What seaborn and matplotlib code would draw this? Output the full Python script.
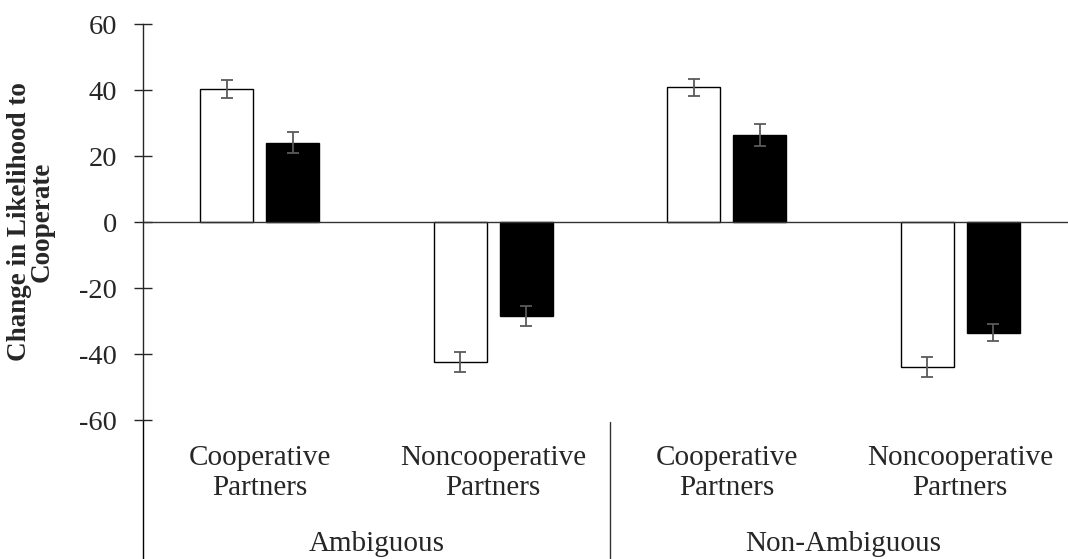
import numpy as np
import pandas as pd
import matplotlib
matplotlib.use('Agg')
import matplotlib.pyplot as plt
import matplotlib.transforms as mtransforms
import seaborn as sns

# Bar values
groups = ['Ambiguous', 'Ambiguous', 'Non-Ambiguous', 'Non-Ambiguous']
partners = ['Cooperative\nPartners', 'Noncooperative\nPartners',
            'Cooperative\nPartners', 'Noncooperative\nPartners']
series_names = ['Open', 'Filled']
open_means = [40.3, -42.5, 40.8, -43.9]
open_errs = [2.8, 3.0, 2.5, 3.0]
filled_means = [24.0, -28.5, 26.3, -33.5]
filled_errs = [3.2, 2.9, 3.4, 2.7]
yticks = [-60, -40, -20, 0, 20, 40, 60]

sns.set_style('ticks')
plt.rcParams['font.family'] = ['Liberation Serif', 'DejaVu Serif']
plt.rcParams['axes.unicode_minus'] = False

keys = [f'{g}|{p}' for g, p in zip(groups, partners)]
df = pd.DataFrame({
    'key': keys * 2,
    'series': [series_names[0]] * 4 + [series_names[1]] * 4,
    'value': open_means + filled_means,
    'err': open_errs + filled_errs,
})

fig = plt.figure(figsize=(10.68, 5.59), dpi=100)
ax = fig.add_axes([143 / 1068, 139 / 559, 934 / 1068, 396 / 559])

sns.barplot(data=df, x='key', y='value', hue='series', order=keys,
            hue_order=series_names,
            palette={series_names[0]: 'white', series_names[1]: 'black'},
            edgecolor='black', linewidth=1.0, width=0.565, gap=0.2,
            errorbar=None, legend=False, ax=ax)

# error bars placed on the bars seaborn drew
for cont, name in zip(ax.containers, series_names):
    errs = df.loc[df['series'] == name, 'err'].to_numpy()
    xs = [b.get_x() + b.get_width() / 2 for b in cont]
    ys = [b.get_y() + b.get_height() for b in cont]
    ax.errorbar(xs, ys, yerr=errs, fmt='none', ecolor='#5a5a5a',
                elinewidth=1.3, capsize=4, capthick=1.3, zorder=5)

ax.set_xlim(-0.5, 3.5)
ax.set_ylim(-60, 60)
ax.set_yticks(yticks)
ax.set_yticklabels([str(t) for t in yticks], fontsize=20.5)
ax.tick_params(axis='y', direction='inout', length=13, width=1.0, pad=12)
ax.set_xticks(range(4))
ax.set_xticklabels(partners, fontsize=21, linespacing=1.2)
ax.tick_params(axis='x', length=0, pad=18)
ax.set_xlabel('')
ax.set_ylabel('Change in Likelihood to\nCooperate', fontsize=19.5,
              fontweight='bold', linespacing=0.85)
ax.yaxis.set_label_coords(-0.095, 0.5)

for s in ['top', 'right', 'bottom']:
    ax.spines[s].set_visible(False)
ax.spines['left'].set_linewidth(1.0)
ax.axhline(0, color='#333333', lw=1.0, zorder=1)

# category box lines below the axis
ax.plot([0, 0], [0, -0.4], transform=ax.transAxes, color='black',
        lw=1.0, clip_on=False)
ax.plot([0.5, 0.5], [-0.005, -0.4], transform=ax.transAxes, color='#333333',
        lw=1.0, clip_on=False)

trans = mtransforms.blended_transform_factory(ax.transData, ax.transAxes)
for label, xc in [('Ambiguous', 0.5), ('Non-Ambiguous', 2.5)]:
    ax.text(xc, -0.33, label, transform=trans, ha='center', va='baseline',
            fontsize=21)

fig.savefig('out.png', dpi=100)
